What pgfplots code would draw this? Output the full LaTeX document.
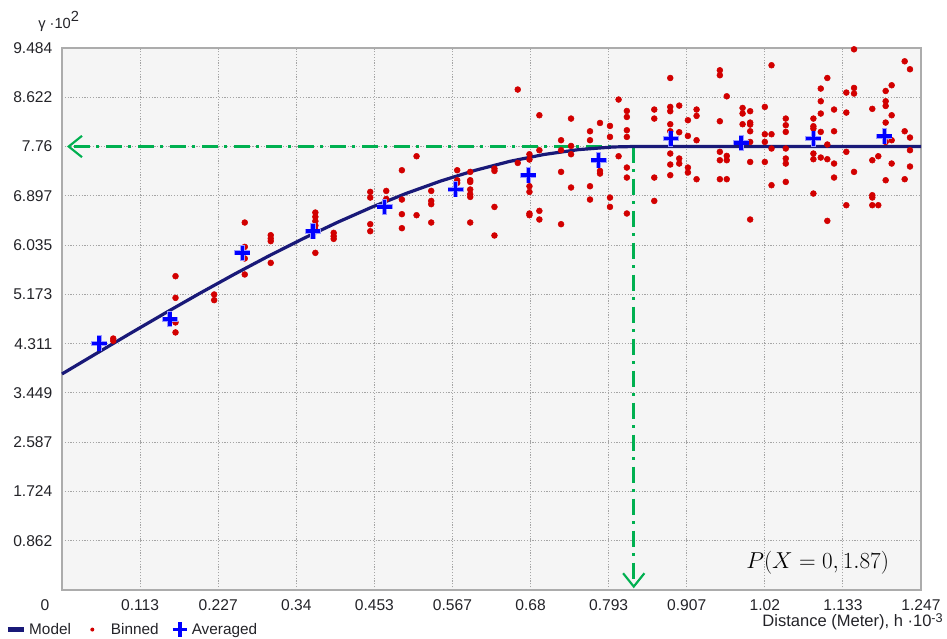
\documentclass[border=0pt]{standalone}
\usepackage[no-math]{fontspec}
\setmainfont{Liberation Sans}
\usepackage{pgfplots}
\pgfplotsset{compat=1.18}
\usetikzlibrary{arrows.meta}
\definecolor{bgc}{RGB}{245,245,245}
\definecolor{framec}{RGB}{172,172,172}
\definecolor{gridc}{RGB}{165,165,165}
\definecolor{modelc}{RGB}{25,25,120}
\definecolor{binc}{RGB}{210,0,0}
\definecolor{avgc}{RGB}{0,0,255}
\definecolor{arrc}{RGB}{0,176,80}
\definecolor{txtc}{RGB}{35,35,40}
\begin{document}
\begin{tikzpicture}
\useasboundingbox (-46.5pt,-36.75pt) rectangle (663.75pt,442.5pt);
\begin{axis}[
  at={(0pt,0pt)}, anchor=south west,
  width=644.25pt, height=406.5pt, scale only axis,
  xmin=0, xmax=1.247, ymin=0, ymax=9.484,
  clip=false,
  axis background/.style={fill=bgc},
  axis line style={draw=framec, line width=1.1pt},
  xtick={0,0.113364,0.226727,0.340091,0.453455,0.566818,0.680182,0.793545,0.906909,1.020273,1.133636,1.247},
  xticklabels={\makebox[0pt][r]{0\hspace{9.5pt}},0.113,0.227,0.34,0.453,0.567,0.68,0.793,0.907,1.02,1.133,1.247},
  ytick={0,0.862182,1.724364,2.586545,3.448727,4.310909,5.173091,6.035273,6.897455,7.759636,8.621818,9.484},
  yticklabels={,0.862,1.724,2.587,3.449,4.311,5.173,6.035,6.897,7.76,8.622,9.484},
  major tick length=0pt,
  grid=major,
  major grid style={draw=gridc, line width=0.7pt, dash pattern=on 0.9pt off 1.2pt},
  tick label style={font=\fontsize{11.7}{14}\selectfont, text=txtc},
  xticklabel style={yshift=-4pt},
  yticklabel style={xshift=-3.7pt},
  /pgf/number format/assume math mode=true,
  legend columns=-1,
  legend style={draw=none, fill=none, at={(-0.0664,-0.073)}, anchor=west,
    font=\fontsize{11.5}{14}\selectfont, text=txtc, inner sep=0pt,
    /tikz/every even column/.append style={column sep=7pt}},
]
\addlegendimage{legend image code/.code={\draw[modelc, line width=4pt] (0pt,0pt) -- (12pt,0pt);}}
\addlegendentry{Model}
\addlegendimage{legend image code/.code={\path[draw=none, fill=none] (0pt,0pt) -- (19pt,0pt); \fill[binc, draw=none] (7pt,0pt) circle (1.5pt);}}
\addlegendentry{Binned}
\addlegendimage{legend image code/.code={\draw[avgc, line width=2.8pt] (2pt,0pt) -- (13pt,0pt) (7.5pt,-5.5pt) -- (7.5pt,5.5pt);}}
\addlegendentry{Averaged}
% Binned
\addplot[only marks, mark=*, mark size=2.2pt, color=binc, forget plot]
coordinates {
(0.0744,4.40) (0.0744,4.36)
(0.1648,5.491) (0.1648,5.112) (0.1648,4.682) (0.1648,4.507)
(0.2209,5.171) (0.2209,5.072)
(0.2653,6.430) (0.2653,6.004) (0.2653,5.801) (0.2653,5.521)
(0.303,6.208) (0.303,6.151) (0.303,6.104) (0.303,5.724)
(0.3678,6.605) (0.3678,6.530) (0.3678,6.454) (0.3678,6.378) (0.3678,6.302) (0.3678,5.899)
(0.3944,6.249) (0.3944,6.191) (0.3944,6.144)
(0.4475,6.966) (0.4475,6.867) (0.4475,6.401) (0.4475,6.278)
(0.4707,6.983) (0.4707,6.843)
(0.4934,7.345) (0.4934,6.832) (0.4934,6.576) (0.4934,6.331)
(0.5147,7.590) (0.5147,6.558)
(0.536,6.983) (0.536,6.808) (0.536,6.751) (0.536,6.430)
(0.5737,7.345) (0.5737,7.170) (0.5737,7.123)
(0.5926,7.316) (0.5926,7.17) (0.5926,7.14) (0.5926,7.008) (0.5926,6.925) (0.5926,6.878) (0.5926,6.430)
(0.6278,7.374) (0.6278,7.333) (0.6278,6.703) (0.6278,6.203)
(0.6616,8.757) (0.6616,7.473)
(0.6786,7.625) (0.6786,7.532) (0.6786,7.065) (0.6786,6.966) (0.6786,6.588) (0.6786,6.558)
(0.693,8.307) (0.693,7.695) (0.693,6.634) (0.693,6.483)
(0.7245,7.870) (0.7245,7.695) (0.7245,7.316) (0.7245,6.401)
(0.739,8.249) (0.739,7.770) (0.739,7.625) (0.739,7.043)
(0.7665,8.027) (0.7665,7.870) (0.7665,7.065) (0.7665,6.832)
(0.781,8.172) (0.781,7.333) (0.781,7.287)
(0.7955,8.120) (0.7955,7.928) (0.7955,6.867) (0.7955,6.703)
(0.808,8.582) (0.808,7.590)
(0.820,8.382) (0.820,8.277) (0.820,8.045) (0.820,7.928) (0.820,7.392) (0.820,7.217) (0.820,6.588)
(0.8598,8.407) (0.8598,8.249) (0.8598,7.217) (0.8598,6.808)
(0.883,8.959) (0.883,8.453) (0.883,8.378) (0.883,8.150) (0.883,8.027) (0.883,7.637) (0.883,7.445) (0.883,7.258)
(0.896,8.476) (0.896,8.010) (0.896,7.550) (0.896,7.462)
(0.9086,8.220) (0.9086,7.945) (0.9086,7.392) (0.9086,7.305)
(0.9212,8.407) (0.9212,8.296) (0.9212,7.870) (0.9212,7.188)
(0.955,9.094) (0.955,9.007) (0.955,8.202) (0.955,7.667) (0.955,7.520) (0.955,7.188)
(0.965,8.639) (0.965,7.596) (0.965,7.520) (0.965,7.188)
(0.988,8.435) (0.988,8.337) (0.988,8.150)
(0.999,8.378) (0.999,8.179) (0.999,8.144) (0.999,8.027) (0.999,7.840) (0.999,7.490) (0.999,6.483)
(1.0203,8.453) (1.0203,7.975) (1.0203,7.840) (1.0203,7.490)
(1.030,9.182) (1.030,7.975) (1.030,7.725) (1.030,7.083)
(1.0507,8.249) (1.0507,8.133) (1.0507,8.016) (1.0507,7.725) (1.0507,7.550) (1.0507,7.462) (1.0507,7.141)
(1.0908,8.249) (1.0908,8.115) (1.0908,8.074) (1.0908,7.637) (1.0908,7.538) (1.0908,6.937)
(1.1015,8.774) (1.1015,8.552) (1.1015,8.337) (1.1015,8.016) (1.1015,7.567)
(1.111,8.959) (1.111,7.795) (1.111,7.538) (1.111,6.459)
(1.1208,8.407) (1.1208,8.027) (1.1208,7.462) (1.1208,7.217)
(1.1386,8.704) (1.1386,8.354) (1.1386,7.667) (1.1386,6.733)
(1.1498,9.461) (1.1498,8.785) (1.1498,8.687) (1.1498,7.316)
(1.1763,8.419) (1.1763,7.520) (1.1763,6.908) (1.1763,6.868) (1.1763,6.733)
(1.185,7.590) (1.185,6.733)
(1.1957,8.732) (1.1957,8.552) (1.1957,8.470) (1.1957,8.179) (1.1957,7.840) (1.1957,7.170)
(1.2044,8.832) (1.2044,8.307) (1.2044,7.870) (1.2044,7.462)
(1.2233,9.251) (1.2233,8.027) (1.2233,7.188)
(1.231,9.112) (1.231,7.917) (1.231,7.695) (1.231,7.410)
};
% Averaged halo
\addplot[only marks, mark=+, mark size=6pt, color=avgc!40, line width=3.8pt, forget plot]
coordinates {(0.054,4.314) (0.1566,4.739) (0.262,5.899) (0.3644,6.278) (0.4683,6.703) (0.5713,7.008)
(0.677,7.258) (0.779,7.520) (0.884,7.899) (0.986,7.823) (1.0908,7.899) (1.194,7.940)};
% Green guide arrows
\addplot[arrc, line width=2pt, dash pattern=on 12pt off 5pt on 2pt off 5pt,
  -{Straight Barb[length=10pt,width=16pt,line width=1.6pt]}, forget plot]
coordinates {(0.830,7.76) (0.0072,7.76)};
\addplot[arrc, line width=2pt, dash pattern=on 12pt off 5pt on 2pt off 5pt,
  -{Straight Barb[length=10pt,width=16pt,line width=1.6pt]}, forget plot]
coordinates {(0.830,7.76) (0.830,0.03)};
% Model
\addplot[modelc, line width=2.4pt, forget plot]
coordinates {
(0,3.78) (0.05,4.139) (0.1,4.496) (0.15,4.847) (0.2,5.191) (0.25,5.524) (0.3,5.844)
(0.35,6.148) (0.4,6.434) (0.45,6.700) (0.5,6.941) (0.55,7.157) (0.6,7.344) (0.65,7.500)
(0.7,7.621) (0.75,7.706) (0.8,7.752) (0.83,7.76) (1.247,7.76)
};
% Averaged
\addplot[only marks, mark=+, mark size=5.5pt, color=avgc, line width=2.6pt, forget plot]
coordinates {(0.054,4.314) (0.1566,4.739) (0.262,5.899) (0.3644,6.278) (0.4683,6.703) (0.5713,7.008)
(0.677,7.258) (0.779,7.520) (0.884,7.899) (0.986,7.823) (1.0908,7.899) (1.194,7.940)};
\node[anchor=base west, inner sep=0pt, text=txtc, font=\fontsize{11}{13}\selectfont]
  at (rel axis cs:0,1) [xshift=-18pt, yshift=14.5pt] {γ ·10\raisebox{5.5pt}{2}};
\node[anchor=base east, inner sep=0pt, text=txtc, font=\fontsize{12.4}{14}\selectfont]
  at (rel axis cs:1,0) [xshift=16.5pt, yshift=-27.5pt] {Distance (Meter), h ·10\raisebox{3.2pt}{\fontsize{9.5}{11}\selectfont -3}};
\node[font=\fontsize{18}{21}\selectfont] at (axis cs:1.097,0.472) {$P(X=0,1.87)$};
\end{axis}
\end{tikzpicture}
\end{document}
